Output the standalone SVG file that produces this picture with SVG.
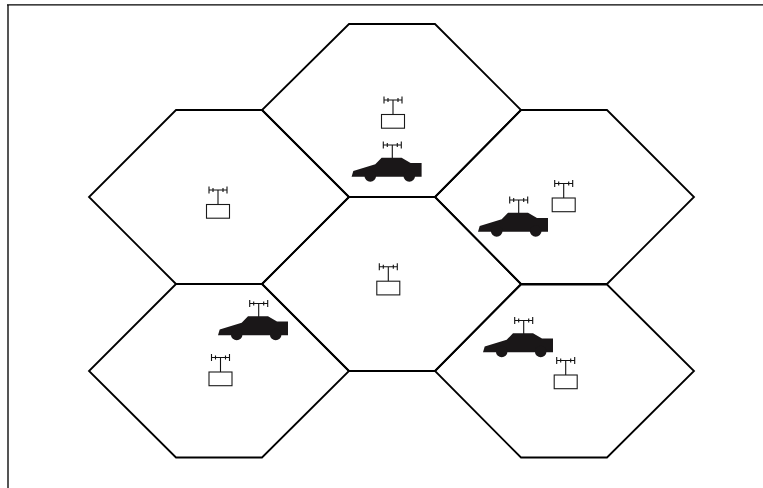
<svg xmlns="http://www.w3.org/2000/svg" width="763" height="488" viewBox="0 0 763 488">
<style>
.hex{fill:none;stroke:#000;stroke-width:1.8;stroke-linejoin:miter}
.ln{fill:none;stroke:#111;stroke-width:1.1}
.box{fill:#fff;stroke:#1a1a1a;stroke-width:1.1}
.body{fill:#1a1718}
</style>
<defs>
<g id="antenna"><path class="ln" d="M-9 0H9M-9-3.500V3.500M-5-2V2M5-2V2M9-3.500V3.500M0 0V14.500"/></g>
<g id="tower"><use href="#antenna"/><rect class="box" x="-11.500" y="14.500" width="23" height="13.700"/></g>
<g id="car"><use href="#antenna"/><path class="body" d="M-40.700 31.700L-39 26L-17 19.300L-10.700 12.700H9.300L18.300 18H29.300V31.700H-40.700Z"/><circle class="body" cx="-22" cy="31" r="5.800"/><circle class="body" cx="17" cy="31" r="5.800"/></g>
</defs>
<rect width="763" height="488" fill="#fff"/>
<g id="frame"><path d="M8 488V5" fill="none" stroke="#555" stroke-width="2"/><path d="M7 4.800H763" fill="none" stroke="#000" stroke-width="1.300"/></g>
<g id="cell-top"><path class="hex" d="M349 24H435L521 110L435 197H349L262 110Z"/></g>
<g id="cell-left"><path class="hex" d="M176 110H262L349 197L262 284H176L89 197Z"/></g>
<g id="cell-right"><path class="hex" d="M521 110H607L694 197L607 284H521L435 197Z"/></g>
<g id="cell-center"><path class="hex" d="M349 197H435L521 284L435 371H349L262 284Z"/></g>
<g id="cell-bottom-left"><path class="hex" d="M176 284H262L349 371L262 457.500H176L89 371Z"/></g>
<g id="cell-bottom-right"><path class="hex" d="M521 284.500H607L694 371L607 457.500H521L435 371Z"/></g>
<g id="tower-top"><use href="#tower" x="393" y="100"/></g>
<g id="tower-left"><use href="#tower" x="218" y="190"/></g>
<g id="tower-right"><use href="#tower" x="563.700" y="183.500"/></g>
<g id="tower-center"><use href="#tower" x="388.300" y="266.700"/></g>
<g id="tower-bottom-left"><use href="#tower" x="220.500" y="357.500"/></g>
<g id="tower-bottom-right"><use href="#tower" x="565.700" y="360.500"/></g>
<g id="car-top"><use href="#car" x="392.300" y="145"/></g>
<g id="car-right"><use href="#car" x="518.700" y="200"/></g>
<g id="car-bottom-left"><use href="#car" x="258.700" y="303.500"/></g>
<g id="car-bottom-right"><use href="#car" x="523.700" y="320.500"/></g>
</svg>
